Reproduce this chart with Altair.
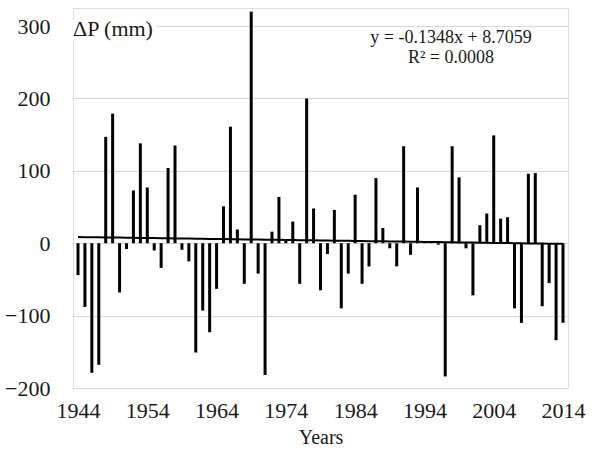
import altair as alt
import pandas as pd

# Annual precipitation anomaly (mm), 1944-2014
years = list(range(1944, 2015))
delta_p = [
    -44, -88, -179, -168, 147, 179, -68, -8, 73, 138,
    77, -10, -34, 104, 135, -9, -25, -151, -93, -123,
    -63, 51, 161, 19, -56, 320, -42, -182, 16, 64,
    5, 30, -56, 200, 48, -65, -15, 46, -90, -42,
    67, -56, -32, 90, 21, -7, -32, 134, -16, 77,
    3, 2, -2, -184, 134, 91, -7, -72, 25, 41,
    149, 34, 36, -90, -110, 96, 97, -87, -55, -134,
    -110,
]

# Linear trend as reported: y = slope * n + intercept, n = 1..71
slope = -0.1348
intercept = 8.7059
r_squared = "0.0008"

x_ticks = [1944, 1954, 1964, 1974, 1984, 1994, 2004, 2014]
y_ticks = [-200, -100, 0, 100, 200, 300]

df = pd.DataFrame({"year": years, "dp": delta_p})
df["trend"] = [slope * (i + 1) + intercept for i in range(len(years))]

FONT = "Liberation Serif"
INK = "#1a1a1a"

x_enc = alt.X(
    "year:Q",
    scale=alt.Scale(domain=[1944, 2014], nice=False, zero=False),
    axis=alt.Axis(
        values=x_ticks, format="d", title="Years", grid=False, ticks=False,
        domain=False, labelFont=FONT, labelFontSize=22, labelColor=INK,
        labelPadding=12, labelFlush=False, titleFont=FONT, titleFontSize=20,
        titleFontWeight="normal", titleColor=INK, titlePadding=6,
    ),
)

y_scale = alt.Scale(domain=[-200, 325], nice=False, zero=False)

bars = alt.Chart(df).mark_bar(size=3, color="black").encode(
    x=x_enc,
    y=alt.Y(
        "dp:Q", scale=y_scale,
        axis=alt.Axis(
            values=y_ticks, title=None, ticks=False, domain=False,
            grid=True, gridColor="#d9d9d9", gridWidth=1,
            labelFont=FONT, labelFontSize=22, labelColor=INK, labelPadding=23,
        ),
    ),
    y2=alt.datum(0),
)

trend = alt.Chart(df).mark_line(color="black", strokeWidth=2).encode(
    x=alt.X("year:Q"),
    y=alt.Y("trend:Q", scale=y_scale),
)

# One-row tables for the annotations so each text is drawn once
one = pd.DataFrame({"k": [0]})
notes = pd.DataFrame({
    "t": ["ΔP (mm)", f"y = {slope}x  + {intercept}", f"R² = {r_squared}"],
})

# White box behind the quantity label, covering the gridline
label_bg = alt.Chart(one).mark_rect(color="white").encode(
    x=alt.value(-1), x2=alt.value(84), y=alt.value(11), y2=alt.value(32),
)
label = alt.Chart(notes.iloc[[0]]).mark_text(
    font=FONT, fontSize=22, color=INK, align="left", baseline="middle",
).encode(text="t:N", x=alt.value(0), y=alt.value(21))

# Trend equation and R² on two lines
eq1 = alt.Chart(notes.iloc[[1]]).mark_text(
    font=FONT, fontSize=18, color=INK, align="center", baseline="middle",
).encode(text="t:N", x=alt.value(378), y=alt.value(30))
eq2 = alt.Chart(notes.iloc[[2]]).mark_text(
    font=FONT, fontSize=18, color=INK, align="center", baseline="middle",
).encode(text="t:N", x=alt.value(378), y=alt.value(50))

chart = alt.layer(bars, trend, label_bg, label, eq1, eq2).properties(
    width=495,
    height=380,
    autosize=alt.AutoSizeParams(type="none"),
    padding={"left": 73, "top": 8, "right": 27, "bottom": 61},
).configure_view(stroke=None).configure(background="white")

chart.save("out.html", embed_options={"renderer": "svg", "actions": False})
